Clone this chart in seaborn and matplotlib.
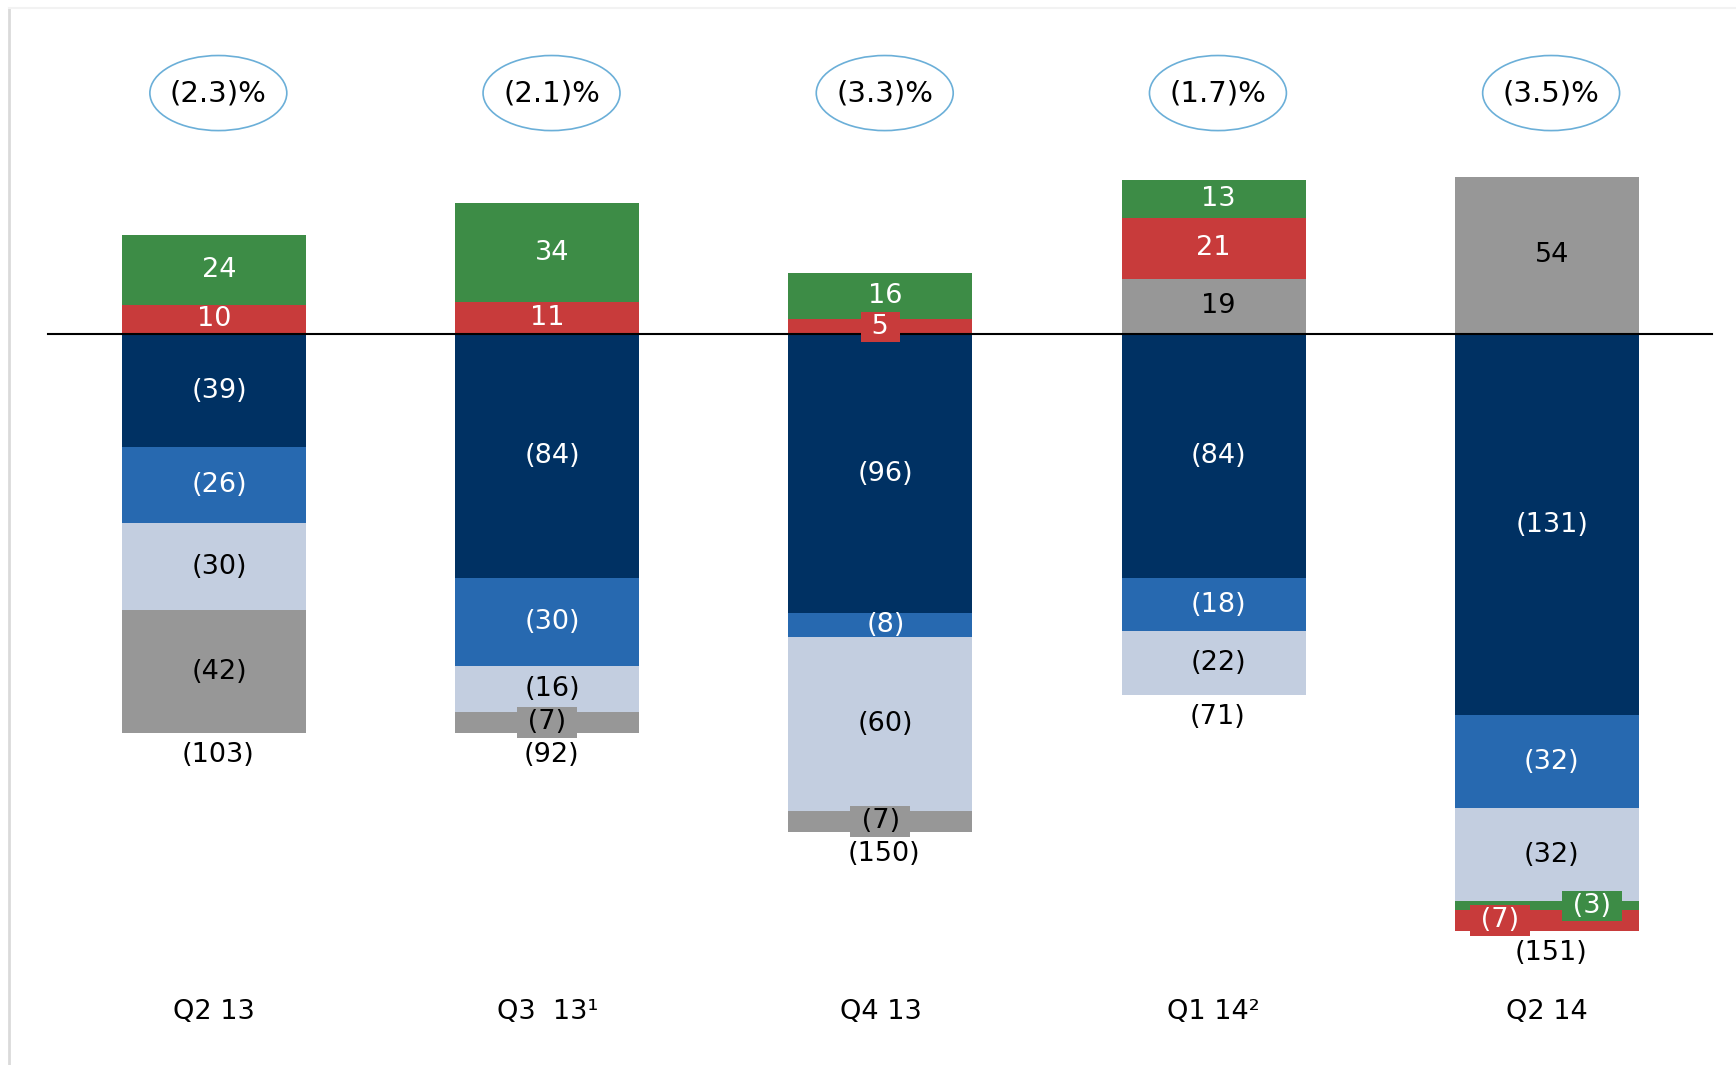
import pandas as pd
import matplotlib.pyplot as plt
from matplotlib.patches import Ellipse
from matplotlib.lines import Line2D
import seaborn as sns

quarters = ["Q2 13", "Q3  13¹", "Q4 13", "Q1 14²", "Q2 14"]
green = [24, 34, 16, 13, -3]
red = [10, 11, 5, 21, -7]
gray = [-42, -7, -7, 19, 54]
navy = [-39, -84, -96, -84, -131]
blue = [-26, -30, -8, -18, -32]
light = [-30, -16, -60, -22, -32]
totals = [-103, -92, -150, -71, -151]
margins = ["(2.3)%", "(2.1)%", "(3.3)%", "(1.7)%", "(3.5)%"]

series = {
    "green": (green, "#3D8C46", "white"),
    "red": (red, "#C83B3B", "white"),
    "gray": (gray, "#979797", "black"),
    "navy": (navy, "#003163", "white"),
    "blue": (blue, "#2769B0", "white"),
    "light": (light, "#C3CEE0", "black"),
}
pos_order = ["gray", "red", "green"]
neg_order = ["navy", "blue", "light", "gray", "green", "red"]

# small segments get a label box, some shifted sideways
boxed = {("red", 2): 0, ("gray", 1): 0, ("gray", 2): 0,
         ("red", 4): -0.14, ("green", 4): 0.135}

n = len(quarters)
bottoms = {k: [0.0] * n for k in series}
pos_acc = [0.0] * n
neg_acc = [0.0] * n
for k in pos_order:
    for i, v in enumerate(series[k][0]):
        if v > 0:
            bottoms[k][i] = pos_acc[i]
            pos_acc[i] += v
for k in neg_order:
    for i, v in enumerate(series[k][0]):
        if v < 0:
            bottoms[k][i] = neg_acc[i]
            neg_acc[i] += v

fig = plt.figure(figsize=(17.36, 10.65), dpi=100)
ax = fig.add_axes([0, 0, 1, 1])

for k, (vals, col, tcol) in series.items():
    df = pd.DataFrame({"quarter": quarters, "value": vals})
    sns.barplot(data=df, x="quarter", y="value", bottom=bottoms[k], color=col,
                width=0.552, errorbar=None, saturation=1, linewidth=0, ax=ax)

px_x = 333.2
px_y = 2.91
ax.set_xlim(-214 / px_x, (1736 - 214) / px_x)
ax.set_ylim(-(1065 - 334) / px_y, 334 / px_y)
ax.axis("off")

fs = 19.5
for k, (vals, col, tcol) in series.items():
    for i, v in enumerate(vals):
        lab = str(v) if v > 0 else f"({-v})"
        y = bottoms[k][i] + v / 2
        if (k, i) in boxed:
            ax.text(i + boxed[(k, i)], y, f" {lab} ", ha="center", va="center",
                    fontsize=fs, color=tcol,
                    bbox=dict(boxstyle="square,pad=0.08", facecolor=col, edgecolor="none"))
        else:
            dx = 0 if k == "red" else 0.015
            ax.text(i + dx, y, lab, ha="center", va="center", fontsize=fs, color=tcol)

for i, t in enumerate(totals):
    ax.text(i + 0.012, neg_acc[i] - 7.6, f"({-t})", ha="center", va="center", fontsize=fs, color="black")
    ax.text(i, -233, quarters[i], ha="center", va="center", fontsize=fs, color="black")
    ax.add_patch(Ellipse((i + 0.013, 82.8), 0.411, 25.8, facecolor="none",
                         edgecolor="#6BAFD8", linewidth=1.2))
    ax.text(i + 0.013, 82.8, margins[i], ha="center", va="center", fontsize=21, color="black")

ax.axhline(0, xmin=48 / 1736, xmax=1712 / 1736, color="black", linewidth=1.5)

fig.add_artist(Line2D([9 / 1736, 9 / 1736], [0, 1 - 8 / 1065], transform=fig.transFigure,
                      color="#DADADA", linewidth=2))
fig.add_artist(Line2D([9 / 1736, 1], [1 - 8 / 1065, 1 - 8 / 1065], transform=fig.transFigure,
                      color="#F2F2F2", linewidth=1.5))

fig.savefig("out.png", dpi=100)
